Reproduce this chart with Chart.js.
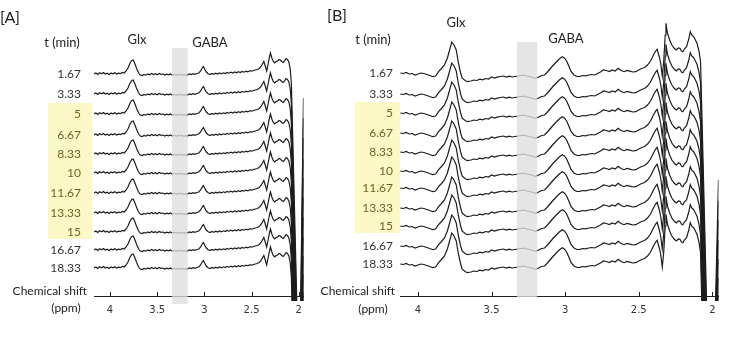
<!DOCTYPE html>
<html><head><meta charset="utf-8">
<script src="https://cdn.jsdelivr.net/npm/chart.js@4/dist/chart.umd.min.js"></script>
<style>
html,body{margin:0;padding:0;background:#fff;width:734px;height:340px;overflow:hidden;}
#ca{position:absolute;left:0;top:0;}
#cb{position:absolute;left:300px;top:0;}
</style></head><body>
<canvas id="ca" width="310" height="340"></canvas>
<canvas id="cb" width="434" height="340"></canvas>
<script>
// ---- data ----
const timeLabels = ['1.67','3.33','5','6.67','8.33','10','11.67','13.33','15','16.67','18.33'];
const highlightedTimes = ['5','6.67','8.33','10','11.67','13.33','15'];
const tickValues = [4,3.5,3,2.5,2];
const tickLabels = ['4','3.5','3','2.5','2'];

// Panel A: chemical shift (ppm) and spectrum shape (relative to each trace's baseline)
const ppmA = [
 4.17,4.15,4.13,4.11,4.09,4.07,4.05,4.03,4.01,3.99,
 3.97,3.95,3.93,3.91,3.89,3.87,3.85,3.83,3.81,3.79,
 3.77,3.755,3.74,3.72,3.70,3.68,3.66,3.64,3.62,3.60,
 3.58,3.56,3.54,3.52,3.50,3.48,3.46,3.44,3.42,3.40,
 3.38,3.36,3.34,3.32,3.30,3.28,3.26,3.24,3.22,3.20,
 3.18,3.16,3.14,3.12,3.10,3.08,3.06,3.04,3.02,3.01,
 3.00,2.98,2.96,2.94,2.92,2.90,2.88,2.86,2.84,2.82,
 2.80,2.78,2.76,2.74,2.72,2.70,2.68,2.66,2.64,2.62,
 2.60,2.58,2.56,2.54,2.52,2.50,2.48,2.46,2.44,2.42,
 2.40,2.385,2.37,2.355,2.34,2.325,2.31,2.30,2.285,2.27,
 2.255,2.24,2.225,2.21,2.195,2.18,2.165,2.15,2.135,2.12,
 2.105,2.09,2.078,2.02,2.0,1.99,1.95];
const shapeA = [
 0,1,-0.5,1.2,0.3,1.5,0,0.8,-0.5,1,
 0.2,1.3,0,0.8,0.3,1.5,1,3,6,10.5,
 13.5,14,11,6,1.5,-1,-1.5,-0.5,-1.2,0,
 -0.8,0.5,-0.5,0.3,-0.7,0.5,-0.3,0,-1,-0.2,
 -0.8,0,-1,-0.3,-1.2,-0.5,-1,-0.4,-1.3,-0.6,
 -1,0,-0.6,0.3,-0.3,0.5,1,3,6.5,7.5,
 5.5,2,0.3,-0.5,0.5,-0.3,0.8,0,1,0.2,
 1.2,0.5,1.5,0.8,1.8,1,2,1.2,2.3,1.5,
 2.5,1.8,2.8,2.2,3.2,2.8,3.5,4,4.5,5.5,
 7.5,10,12.5,8,3,10,17,21,16,12.5,
 11,12.5,13,14.5,14,12.5,11.5,13,15.5,14.5,
 12,5,-10,-230,-300,-300,-24];
const rowOffsetA = [222,202,182,161,142,123,103,83,64,46,28];
const bandA = [3.177,3.344];

// Panel B
const ppmB = [
 4.12,4.10,4.08,4.06,4.04,4.02,4.00,3.98,3.96,3.94,
 3.92,3.90,3.88,3.86,3.84,3.82,3.80,3.785,3.77,3.755,
 3.74,3.725,3.71,3.70,3.68,3.665,3.64,3.62,3.60,3.58,
 3.56,3.54,3.52,3.50,3.48,3.46,3.44,3.42,3.40,3.38,
 3.36,3.34,3.32,3.30,3.28,3.26,3.24,3.22,3.20,3.18,
 3.16,3.14,3.12,3.10,3.08,3.06,3.04,3.02,3.005,2.99,
 2.975,2.96,2.94,2.92,2.90,2.88,2.86,2.84,2.82,2.80,
 2.78,2.76,2.74,2.72,2.70,2.68,2.66,2.64,2.62,2.60,
 2.58,2.56,2.54,2.52,2.50,2.48,2.46,2.44,2.42,2.40,
 2.385,2.375,2.36,2.35,2.34,2.33,2.32,2.315,2.305,2.29,
 2.275,2.26,2.245,2.23,2.22,2.21,2.20,2.19,2.175,2.16,
 2.15,2.14,2.127,2.115,2.104,2.09,2.08,2.072,2.038,2.02,1.99,1.958];
const shapeB = [
 0,-0.5,0.5,-1,-0.5,-2,-1,0,-0.5,-1.5,
 -2.5,-3.7,-3,1.3,4.5,8,15,23,31,28,
 23,10,0,-5,-7.5,-8.7,-8,-7,-7.5,-6.2,
 -6.8,-5.5,-6,-4,-5,-4.2,-3.5,-3,-4,-3.2,
 -4,-3.5,-3,-2.5,-2,-3,-3.5,-4.5,-5.3,-4,
 -2.5,-2,1,4.5,8,11,14,16.3,15,12,
 7,1.5,-2,-3.5,-3.3,-2.5,-2.8,-2,-1.5,-2,
 -0.5,1,3,2.5,1.5,3,2,4.7,2.5,1.3,
 2.5,1.8,1,1.3,3,4.5,5.5,8,12,18,
 22,23.7,16,9,-3,12,38,49.7,40,33,
 28,25,23,25,24.7,22,21.3,24,26.3,34,
 41.3,38,36.3,33,29.7,21.3,11.3,-35,-235,-300,-300,-107];
const rowOffsetB = [223,202,183,163,144,125,108,88,70,50,32];
const bandB = [3.19,3.327];

// ---- drawing ----
const decor = {
  id: 'decor',
  beforeDatasetsDraw(chart, args, o) {
    const ctx = chart.ctx, y = chart.scales.y;
    const i0 = timeLabels.indexOf(highlightedTimes[0]);
    const i1 = timeLabels.indexOf(highlightedTimes[highlightedTimes.length - 1]);
    const top = y.getPixelForValue(o.offsets[i0]) - 11;
    const bot = y.getPixelForValue(o.offsets[i1]) + 7;
    ctx.save();
    ctx.fillStyle = '#fcf9c6';
    ctx.fillRect(o.hlX[0], top, o.hlX[1] - o.hlX[0], bot - top);
    ctx.restore();
  },
  afterDatasetsDraw(chart, args, o) {
    const ctx = chart.ctx, x = chart.scales.x, y = chart.scales.y;
    ctx.save();
    const xa = x.getPixelForValue(o.band[1]), xb = x.getPixelForValue(o.band[0]);
    ctx.fillStyle = 'rgba(222,222,222,0.78)';
    ctx.fillRect(xa, o.bandY[0], xb - xa, o.bandY[1] - o.bandY[0]);
    ctx.strokeStyle = '#222'; ctx.lineWidth = 1;
    const yb = chart.chartArea.bottom;
    tickValues.forEach(v => {
      const px = Math.round(x.getPixelForValue(v)) + 0.5;
      ctx.beginPath(); ctx.moveTo(px, yb); ctx.lineTo(px, yb - 4); ctx.stroke();
    });
    ctx.textBaseline = 'middle';
    ctx.textAlign = 'right';
    ctx.font = '12px Lato';
    timeLabels.forEach((t, i) => {
      ctx.fillStyle = highlightedTimes.includes(t) ? '#6b6524' : '#333';
      ctx.fillText(t, o.labelX, y.getPixelForValue(o.offsets[i]));
    });
    o.texts.forEach(tx => {
      ctx.font = (tx.size || 12) + 'px Lato';
      ctx.fillStyle = '#222';
      ctx.textAlign = tx.align || 'center';
      ctx.fillText(tx.t, tx.x, tx.y);
    });
    ctx.restore();
  }
};

function makeChart(id, ppm, shape, offsets, xmin, xmax, padL, padR, deco) {
  const datasets = offsets.map((off, k) => ({
    label: timeLabels[k],
    data: ppm.map((p, i) => ({x: p, y: off + shape[i]})),
    borderColor: '#1c1c1c',
    borderWidth: 1.2,
    pointRadius: 0,
    tension: 0,
    fill: false,
    clip: {left: 0, top: 20, right: 0, bottom: 5}
  }));
  return new Chart(document.getElementById(id), {
    type: 'line',
    data: {datasets},
    plugins: [decor],
    options: {
      responsive: false,
      animation: false,
      layout: {padding: {left: padL, right: padR, top: 20, bottom: 0}},
      plugins: {legend: {display: false}, tooltip: {enabled: false}, decor: deco},
      scales: {
        x: {
          type: 'linear', reverse: true, min: xmin, max: xmax,
          afterBuildTicks: s => { s.ticks = tickValues.map(v => ({value: v})); },
          afterFit: s => { s.height = 44; },
          grid: {display: false, drawTicks: false},
          border: {display: true, color: '#222', width: 1},
          ticks: {
            padding: 8, color: '#333', font: {family: 'DejaVu Sans', size: 10},
            maxRotation: 0, autoSkip: false,
            callback: v => tickLabels[tickValues.indexOf(v)]
          }
        },
        y: {type: 'linear', display: false, min: 0, max: 276}
      }
    }
  });
}

makeChart('ca', ppmA, shapeA, rowOffsetA, 1.95, 4.17, 94, 3, {
  offsets: rowOffsetA, band: bandA, bandY: [48, 304], hlX: [48, 92], labelX: 81,
  texts: [
    {t: '[A]', x: 10, y: 18, size: 16},
    {t: 't (min)', x: 62, y: 43, size: 13},
    {t: 'Glx', x: 137, y: 40, size: 13},
    {t: 'GABA', x: 210, y: 43, size: 13},
    {t: 'Chemical shift', x: 87, y: 291, size: 12, align: 'right'},
    {t: '(ppm)', x: 66, y: 308, size: 12}
  ]
});
makeChart('cb', ppmB, shapeB, rowOffsetB, 1.958, 4.122, 100, 15.5, {
  offsets: rowOffsetB, band: bandB, bandY: [42, 297], hlX: [55, 100], labelX: 93,
  texts: [
    {t: '[B]', x: 37, y: 16, size: 16},
    {t: 't (min)', x: 73, y: 40, size: 13},
    {t: 'Glx', x: 156, y: 23, size: 13},
    {t: 'GABA', x: 266, y: 39, size: 13},
    {t: 'Chemical shift', x: 95, y: 291, size: 12, align: 'right'},
    {t: '(ppm)', x: 73, y: 309, size: 12}
  ]
});
</script>
</body></html>
